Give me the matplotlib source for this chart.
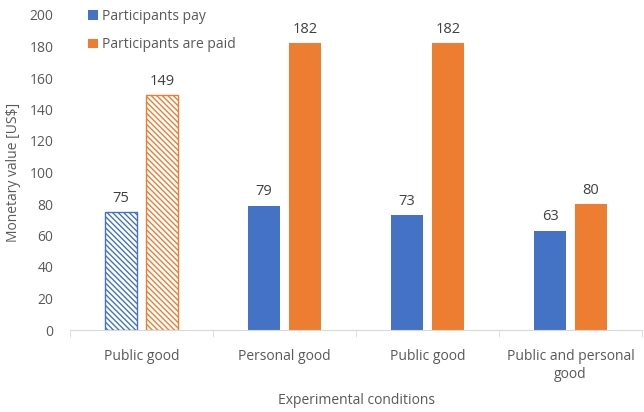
import matplotlib.pyplot as plt
import numpy as np

categories = ['Public good', 'Personal good', 'Public good', 'Public and personal\ngood']
pay = [75, 79, 73, 63]
paid = [149, 182, 182, 80]
hatched = [True, False, False, False]

blue = '#4472C4'
orange = '#ED7D31'
grey = '#595959'

plt.rcParams['font.family'] = ['Open Sans', 'DejaVu Sans']
plt.rcParams['hatch.linewidth'] = 1.0

fig = plt.figure(figsize=(6.44, 4.12), dpi=100)
ax = fig.add_axes([70 / 644, 82 / 412, 572 / 644, 315 / 412])

x = np.arange(len(categories))
w = 0.23
off = 0.143
for i in range(len(categories)):
    if hatched[i]:
        ax.bar(x[i] - off, pay[i], w, facecolor='white', edgecolor=blue, hatch='\\' * 6, linewidth=1)
        ax.bar(x[i] + off, paid[i], w, facecolor='white', edgecolor=orange, hatch='\\' * 6, linewidth=1)
    else:
        ax.bar(x[i] - off, pay[i], w, color=blue)
        ax.bar(x[i] + off, paid[i], w, color=orange)
    ax.text(x[i] - off, pay[i] + 4, str(pay[i]), ha='center', va='bottom', fontsize=10.5, color='#404040')
    ax.text(x[i] + off, paid[i] + 4, str(paid[i]), ha='center', va='bottom', fontsize=10.5, color='#404040')

ax.bar(0, 0, 0, color=blue, label='Participants pay')
ax.bar(0, 0, 0, color=orange, label='Participants are paid')

ax.set_xlim(-0.5, len(categories) - 0.5)
ax.set_ylim(0, 200)
ax.set_yticks(range(0, 201, 20))
ax.set_xticks(x)
ax.set_xticklabels(categories)
ax.set_xticks(np.arange(-0.5, len(categories), 1), minor=True)
ax.tick_params(axis='x', which='major', length=0, pad=14, labelsize=10, labelcolor=grey)
ax.tick_params(axis='x', which='minor', length=5, color='#D9D9D9')
ax.tick_params(axis='y', length=0, labelsize=10, labelcolor=grey, pad=12)

for s in ['top', 'right', 'left']:
    ax.spines[s].set_visible(False)
ax.spines['bottom'].set_color('#D9D9D9')

ax.set_ylabel('Monetary value [US$]', fontsize=10, color=grey, labelpad=6)
ax.set_xlabel('Experimental conditions', fontsize=10, color=grey, labelpad=8)

ax.legend(loc='upper left', bbox_to_anchor=(0.01, 1.06), frameon=False, fontsize=10,
          handlelength=0.7, handleheight=0.7, handletextpad=0.3, labelspacing=1.0,
          labelcolor=grey)

fig.savefig('out.png', dpi=100)
